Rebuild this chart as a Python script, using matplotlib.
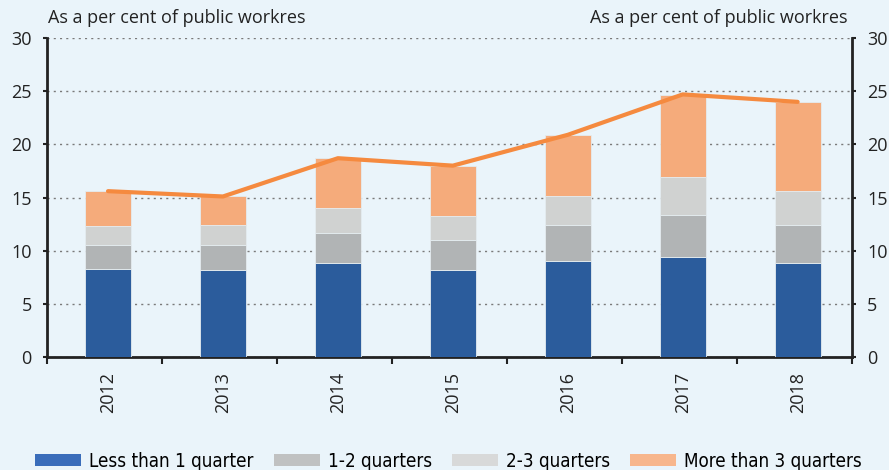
import numpy as np
import matplotlib.pyplot as plt
from matplotlib.patches import Patch

years = ['2012', '2013', '2014', '2015', '2016', '2017', '2018']
less_1q = [8.3, 8.2, 8.85, 8.2, 9.0, 9.4, 8.8]
q1_2 = [2.2, 2.3, 2.85, 2.8, 3.45, 4.0, 3.65]
q2_3 = [1.8, 1.9, 2.3, 2.25, 2.65, 3.5, 3.15]
more_3q = [3.3, 2.7, 4.7, 4.75, 5.75, 7.7, 8.4]
total = [15.6, 15.1, 18.7, 18.0, 20.9, 24.7, 24.0]

labels = ['Less than 1 quarter', '1-2 quarters', '2-3 quarters', 'More than 3 quarters']
colors = ['#2b5c9c', '#b1b4b5', '#d0d2d1', '#f5ab7b']
legend_colors = ['#3a6dba', '#c0c1c1', '#d8d9d9', '#f7b68c']
bg = '#eaf4fa'

plt.rcParams['font.family'] = ['Open Sans', 'DejaVu Sans']

fig = plt.figure(figsize=(8.89, 4.70), dpi=100, facecolor=bg)
ax = fig.add_axes([0.053, 0.2404, 0.905, 0.6786], facecolor=bg)

x = np.arange(len(years))
bottom = np.zeros(len(years))
for vals, c in zip([less_1q, q1_2, q2_3, more_3q], colors):
    ax.bar(x + 0.03, vals, 0.4, bottom=bottom, color=c, edgecolor='#e4ecf0', linewidth=0.6, zorder=3)
    bottom += np.array(vals)

ax.plot(x + 0.03, total, color='#f58a3f', lw=3, zorder=4, solid_capstyle='round')

ax.set_xlim(-0.5, len(years) - 0.5)
ax.set_ylim(0, 30)
ax.set_yticks(range(0, 31, 5))
ax.yaxis.grid(True, linestyle=(0, (1.5, 3)), color='#7a7a7a', lw=1, zorder=1)
ax.set_axisbelow(True)

# ticks between categories, labels at centres
ax.set_xticks(np.arange(-0.5, len(years), 1.0))
ax.set_xticklabels([])
ax.set_xticks(x + 0.03, minor=True)
ax.set_xticklabels(years, minor=True, rotation=90, fontsize=13, color='#222222')
ax.tick_params(axis='x', which='minor', length=0, pad=11)
ax.tick_params(axis='x', which='major', length=5, width=1.5, direction='out', color='#222222')
ax.tick_params(axis='y', labelsize=13, length=3, width=1.5, color='#222222', pad=8, labelcolor='#222222')

for s in ['left', 'right', 'bottom']:
    ax.spines[s].set_linewidth(2)
    ax.spines[s].set_color('#222222')
ax.spines['top'].set_visible(False)

ax2 = ax.twinx()
ax2.set_ylim(0, 30)
ax2.set_yticks(range(0, 31, 5))
ax2.tick_params(axis='y', labelsize=13, length=3, width=1.5, color='#222222', pad=8, labelcolor='#222222')
for s in ['left', 'right', 'bottom', 'top']:
    ax2.spines[s].set_visible(False)

fig.text(0.054, 0.962, 'As a per cent of public workres', fontsize=13, color='#222222', va='center', ha='left')
fig.text(0.953, 0.962, 'As a per cent of public workres', fontsize=13, color='#222222', va='center', ha='right')

handles = [Patch(facecolor=c, edgecolor='none') for c in legend_colors]
fig.legend(handles, labels, loc='center', bbox_to_anchor=(0.5045, 0.019), ncol=4, frameon=False,
           handlelength=2.45, handleheight=0.64, columnspacing=1.07, handletextpad=0.43,
           borderpad=0, borderaxespad=0,
           prop={'family': 'DejaVu Sans', 'stretch': 'condensed', 'size': 13.5})

fig.savefig('out.png', dpi=100, facecolor=bg)
